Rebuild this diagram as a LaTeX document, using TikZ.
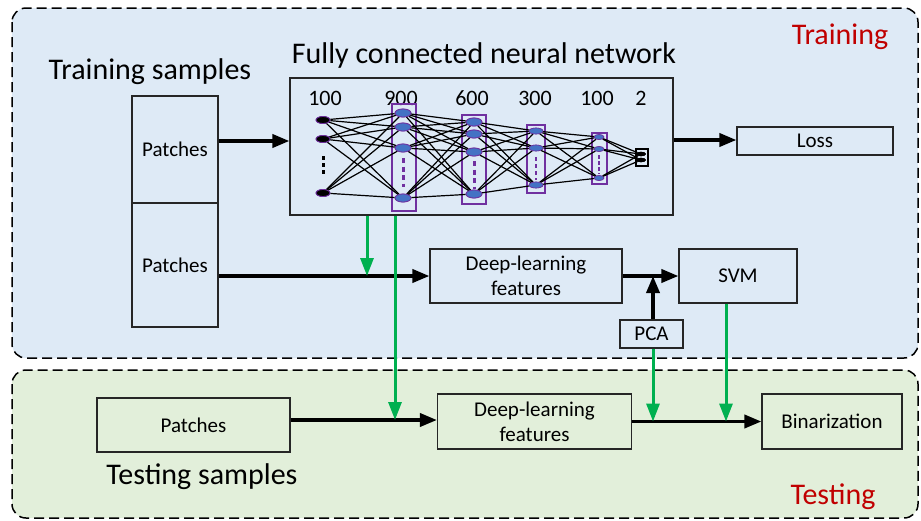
\documentclass[tikz,border=0pt]{standalone}
\usepackage{fontspec}
\setmainfont{Carlito}
\usetikzlibrary{arrows.meta,shapes.geometric}
\definecolor{trainbg}{HTML}{DEEAF6}
\definecolor{testbg}{HTML}{E2EFDA}
\definecolor{gr}{HTML}{00B050}
\definecolor{pur}{HTML}{7030A0}
\definecolor{nblue}{HTML}{4472C4}
\definecolor{dred}{HTML}{C00000}
\tikzset{
  region/.style={draw=black, dash pattern=on 10pt off 5pt, line width=1.5pt, rounded corners=14pt},
  box/.style={draw=black!85, line width=1.1pt, rectangle, inner sep=0pt, align=center, font=\fontsize{21}{25}\selectfont},
  barrow/.style={line width=3.6pt, -{Triangle[length=17pt,width=13pt]}},
  garrow/.style={draw=gr, line width=3pt, -{Triangle[length=18pt,width=13pt]}},
  nA/.style={ellipse, draw=pur, fill=black, line width=0.8pt, minimum width=14pt, minimum height=7pt, inner sep=0pt},
  nB/.style={ellipse, draw=pur, fill=nblue, line width=0.8pt, minimum width=16pt, minimum height=8pt, inner sep=0pt},
  nC/.style={ellipse, draw=pur, fill=nblue, line width=0.6pt, minimum width=14pt, minimum height=6pt, inner sep=0pt},
  nD/.style={ellipse, draw=pur, fill=nblue, line width=0.6pt, minimum width=10pt, minimum height=5pt, inner sep=0pt},
  nE/.style={ellipse, draw=black, fill=black, minimum width=9pt, minimum height=4pt, inner sep=0pt},
  lay/.style={draw=pur, line width=1.2pt},
  conn/.style={line width=1.2pt},
  lbl/.style={font=\fontsize{22}{24}\selectfont},
  big/.style={font=\fontsize{30}{34}\selectfont},
  redlbl/.style={text=dred, font=\fontsize{30}{34}\selectfont},
}
\begin{document}
\begin{tikzpicture}[x=1pt,y=-1pt]
\useasboundingbox (0,0) rectangle (921,520);
% regions
\draw[region, fill=trainbg] (12,8) rectangle (918,358);
\draw[region, fill=testbg] (12,370) rectangle (918,518);
\node[redlbl] (trl) at (840,37) {Training};
\node[redlbl] (tel) at (833,497) {Testing};
\node[big] (ts) at (150,72) {Training samples};
\node[big] (fc) at (484,55) {Fully connected neural network};
\node[big] (tes) at (202,477) {Testing samples};
% boxes
\node[box, minimum width=86pt, minimum height=107pt] (p1) at (175,149.5) {Patches};
\node[box, minimum width=86pt, minimum height=124pt] (p2) at (175,265) {Patches};
\node[box, minimum width=383pt, minimum height=137pt] (nn) at (481.5,146.5) {};
\node[box, minimum width=156pt, minimum height=28pt] (loss) at (815,141) {Loss};
\node[box, minimum width=192pt, minimum height=54pt] (dl1) at (526,276) {Deep-learning\\features};
\node[box, minimum width=118pt, minimum height=54pt] (svm) at (738,276) {SVM};
\node[box, minimum width=63pt, minimum height=28pt] (pca) at (651.5,334) {PCA};
\node[box, minimum width=193pt, minimum height=54pt] (tp) at (193.5,425) {Patches};
\node[box, minimum width=194pt, minimum height=55pt] (dl2) at (534.5,421.5) {Deep-learning\\features};
\node[box, minimum width=140pt, minimum height=55pt] (bin) at (832,421.5) {Binarization};
% layer labels
\node[lbl] (l1) at (325,98) {100};
\node[lbl] (l2) at (401,98) {900};
\node[lbl] (l3) at (472,98) {600};
\node[lbl] (l4) at (535,98) {300};
\node[lbl] (l5) at (597,98) {100};
\node[lbl] (l6) at (641,98) {2};
% layer rectangles
\draw[lay] (392,104) rectangle (416,211);
\draw[lay] (462,115) rectangle (486,204);
\draw[lay] (527,125) rectangle (545,193);
\draw[lay] (592,133) rectangle (607,184);
\draw[line width=1.2pt] (636,149) rectangle (648,166);
% neurons
\node[nA] (a1) at (323,120) {};
\node[nA] (a2) at (323,139) {};
\node[nA] (a3) at (323,193) {};
\node[nB] (b1) at (403,113) {};
\node[nB] (b2) at (403,127) {};
\node[nB] (b3) at (403,148) {};
\node[nB] (b4) at (403,198) {};
\node[nB] (c1) at (474,122) {};
\node[nB] (c2) at (474,134) {};
\node[nB] (c3) at (474,152) {};
\node[nB] (c4) at (474,194) {};
\node[nC] (d1) at (536,131) {};
\node[nC] (d2) at (536,148) {};
\node[nC] (d3) at (536,185) {};
\node[nD] (e1) at (599,137) {};
\node[nD] (e2) at (599,149) {};
\node[nD] (e3) at (599,178) {};
\node[nE] (f1) at (641,154) {};
\node[nE] (f2) at (641,160) {};
% connections
\foreach \s in {a1,a2,a3} \foreach \t in {b1,b2,b3,b4} \draw[conn] (\s) -- (\t);
\foreach \s in {b1,b2,b3,b4} \foreach \t in {c1,c2,c3,c4} \draw[conn] (\s) -- (\t);
\foreach \s in {c1,c2,c3,c4} \foreach \t in {d1,d2,d3} \draw[conn] (\s) -- (\t);
\foreach \s in {d1,d2,d3} \foreach \t in {e1,e2,e3} \draw[conn] (\s) -- (\t);
\foreach \s in {e1,e2,e3} \foreach \t in {f1,f2} \draw[conn] (\s) -- (\t);
% redraw neurons on top
\foreach \n/\st in {a1/nA,a2/nA,a3/nA,b1/nB,b2/nB,b3/nB,b4/nB,c1/nB,c2/nB,c3/nB,c4/nB,d1/nC,d2/nC,d3/nC,e1/nD,e2/nD,e3/nD,f1/nE,f2/nE}
  \node[\st] at (\n) {};
% vertical dots
\coordinate (da1) at (323,156); \coordinate (da2) at (323,174);
\draw[line width=3pt, dash pattern=on 4pt off 3pt] (da1) -- (da2);
\coordinate (db1) at (403,158); \coordinate (db2) at (403,187);
\draw[pur, line width=3pt, dash pattern=on 5pt off 3.5pt] (db1) -- (db2);
\coordinate (dc1) at (474,161); \coordinate (dc2) at (474,189);
\draw[pur, line width=3pt, dash pattern=on 5pt off 3.5pt] (dc1) -- (dc2);
\coordinate (dd1) at (536,157); \coordinate (dd2) at (536,180);
\draw[pur, line width=2.6pt, dash pattern=on 4pt off 3pt] (dd1) -- (dd2);
\coordinate (de1) at (599,155); \coordinate (de2) at (599,174);
\draw[pur, line width=2.2pt, dash pattern=on 3.5pt off 2.5pt] (de1) -- (de2);
% black arrows
\draw[barrow] (p1.east |- 0,141) -- (nn.west |- 0,141);
\draw[barrow] (nn.east |- 0,140) -- (loss.west |- 0,140);
\draw[barrow] (p2.east |- dl1.west) -- (dl1.west);
\draw[barrow] (dl1.east) -- (svm.west);
\draw[barrow] (pca.north -| 653,0) -- (dl1.east -| 653,0);
\draw[barrow] (tp.east |- 0,420) -- (dl2.west |- 0,420);
\draw[barrow] (dl2.east) -- (bin.west);
% green arrows
\coordinate (g1) at (367,276);
\draw[garrow] (nn.south -| g1) -- (g1);
\coordinate (g2) at (395,420);
\draw[garrow] (nn.south -| g2) -- (g2);
\coordinate (g3) at (653,421.5);
\draw[garrow] (pca.south -| g3) -- (g3);
\coordinate (g4) at (726,421.5);
\draw[garrow] (svm.south -| g4) -- (g4);
\end{tikzpicture}
\end{document}
